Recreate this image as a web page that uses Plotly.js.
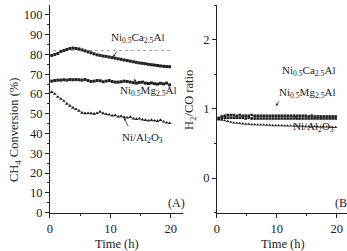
<!DOCTYPE html>
<html><head><meta charset="utf-8">
<script src="https://cdn.plot.ly/plotly-3.0.1.min.js"></script>
<style>html,body{margin:0;padding:0;background:#fff}#c{width:347px;height:251px}</style>
</head><body><div id="c"></div>
<script>
const time = [0.3,0.8,1.3,1.8,2.3,2.8,3.3,3.8,4.3,4.8,5.3,5.8,6.3,6.8,7.3,7.8,8.3,8.8,9.3,9.8,10.3,10.8,11.3,11.8,12.3,12.8,13.3,13.8,14.3,14.8,15.3,15.8,16.3,16.8,17.3,17.8,18.3,18.8,19.3,19.8];
const convCa = [79.5,80,80.5,81.5,82,82.5,83,83.2,83,82.8,82.3,81.8,81.3,80.8,80.3,79.8,79.5,79.2,79,78.7,78.4,78.1,77.8,77.5,77.2,76.9,76.6,76.3,76,75.7,75.5,75.3,75,74.8,74.6,74.4,74.2,74,73.9,73.8];
const convMg = [66.5,66.8,67,67,67.2,67,67.3,67.2,67.3,67.2,67,67.3,66.8,66.3,66.5,66.8,66.7,66.2,66.5,66.8,66.3,66,66,66.2,66.5,66.3,66,65.7,65.5,65.8,66,65.5,65.3,65.6,65.2,65,65.4,65.1,65.5,64.6];
const convAl = [61,60,58.5,57.5,56.5,55,54,53,52.3,51.5,50.5,50.2,50.3,50.2,50,50.3,51,50.2,49.8,49.5,49,49.2,48.5,48.7,48.2,48,48.3,47.5,47.3,47.5,47,46.8,46.5,46.8,46.5,46.3,46.8,46,45.5,45.2];
const ratioCa = [0.87,0.89,0.9,0.91,0.91,0.91,0.9,0.91,0.9,0.9,0.9,0.91,0.9,0.9,0.9,0.9,0.9,0.9,0.9,0.9,0.9,0.9,0.9,0.9,0.9,0.9,0.9,0.9,0.9,0.9,0.89,0.9,0.89,0.89,0.89,0.89,0.89,0.89,0.89,0.89];
const ratioMg = [0.85,0.86,0.87,0.87,0.87,0.87,0.87,0.87,0.87,0.86,0.87,0.86,0.86,0.86,0.86,0.86,0.86,0.86,0.86,0.86,0.86,0.86,0.86,0.86,0.86,0.86,0.86,0.86,0.86,0.86,0.86,0.86,0.86,0.86,0.86,0.86,0.86,0.86,0.86,0.86];
const ratioAl = [0.85,0.84,0.83,0.82,0.81,0.8,0.795,0.79,0.785,0.78,0.78,0.775,0.775,0.77,0.77,0.77,0.765,0.765,0.76,0.76,0.76,0.76,0.755,0.755,0.755,0.75,0.75,0.75,0.75,0.745,0.745,0.745,0.745,0.74,0.74,0.74,0.74,0.735,0.735,0.735];
const refX = [0.5, 20];
const refY = [82, 82];

const serif = "'Liberation Serif', 'Times New Roman', Times, serif";
const ink = "#222";
function mk(x, y, xa, ya, sym, sz){
  return {x:x, y:y, xaxis:xa, yaxis:ya, type:'scatter', mode:'markers',
    marker:{symbol:sym, size:sz, color:ink, line:{width:0}}, showlegend:false, hoverinfo:'skip', cliponaxis:false};
}
const data = [
  {x:refX, y:refY, xaxis:'x', yaxis:'y', mode:'lines', line:{color:'#888', width:0.8, dash:'dot'}, showlegend:false},
  mk(time, convCa, 'x','y','square',3),
  mk(time, convMg, 'x','y','square',3),
  mk(time, convAl, 'x','y','triangle-up',3.5),
  mk(time, ratioCa, 'x2','y2','square',2.6),
  mk(time, ratioMg, 'x2','y2','square',2.6),
  mk(time, ratioAl, 'x2','y2','triangle-up',3)
];
const axBase = {showline:true, linecolor:ink, linewidth:1, ticks:'outside', ticklen:4, tickcolor:ink,
  showgrid:false, zeroline:false, tickfont:{family:serif, size:12.5, color:ink}, mirror:false};
const xa = Object.assign({}, axBase, {tickvals:[0,10,20], ticktext:['0','10','20'],
  minor:{tickvals:[5,15], ticklen:2.5, tickcolor:ink, ticks:'outside'}});
function ann(x,y,t,size){return {x:x,y:y,xref:'paper',yref:'paper',xanchor:'center',yanchor:'middle',text:t,showarrow:false,
  font:{family:serif,size:size||11,color:ink}};}
function px(x){return x/347;}
function py(y){return 1-y/251;}
function arrow(x0,y0,x1,y1){return {x:px(x1),y:py(y1),ax:px(x0),ay:py(y0),xref:'paper',yref:'paper',axref:'paper',ayref:'paper',
  showarrow:true,arrowhead:2,arrowsize:0.6,arrowwidth:0.8,arrowcolor:ink,text:''};}
const layout = {
  width:347, height:251, margin:{l:0,r:0,t:0,b:0}, paper_bgcolor:'#fff', plot_bgcolor:'rgba(0,0,0,0)',
  font:{family:serif, color:ink},
  xaxis: Object.assign({}, xa, {range:[0,22], domain:[0.144,0.527], anchor:'y'}),
  yaxis: Object.assign({}, axBase, {domain:[0.153,0.980], range:[0,105], tickvals:[0,10,20,30,40,50,60,70,80,90,100], anchor:'x',
    minor:{tickvals:[5,15,25,35,45,55,65,75,85,95], ticklen:2, tickcolor:ink, ticks:'outside'}}),
  xaxis2: Object.assign({}, xa, {range:[0,21.7], domain:[0.625,1.0], anchor:'y2'}),
  yaxis2: Object.assign({}, axBase, {domain:[0.153,0.980], range:[-0.5,2.5], tickvals:[0,1,2], anchor:'x2',
    minor:{tickvals:[-0.5,0.5,1.5,2.5], ticklen:2, tickcolor:ink, ticks:'outside'}}),
  annotations:[
    ann(px(117),py(244),'Time (h)',12.5),
    ann(px(283),py(244),'Time (h)',12.5),
    Object.assign(ann(px(15),py(130),'CH<sub>4</sub> Conversion (%)',12.5),{textangle:-90}),
    Object.assign(ann(px(190),py(100),'H<sub>2</sub>/CO ratio',12.5),{textangle:-90}),
    ann(px(176),py(203),'(A)',12),
    ann(px(341),py(203),'(B',12),
    ann(px(137),py(38),'Ni<sub>0.5</sub>Ca<sub>2.5</sub>Al'),
    ann(px(148),py(91),'Ni<sub>0.5</sub>Mg<sub>2.5</sub>Al'),
    ann(px(142),py(138),'Ni/Al<sub>2</sub>O<sub>3</sub>'),
    ann(px(308),py(71),'Ni<sub>0.5</sub>Ca<sub>2.5</sub>Al'),
    ann(px(307),py(93),'Ni<sub>0.5</sub>Mg<sub>2.5</sub>Al'),
    ann(px(313),py(127),'Ni/Al<sub>2</sub>O<sub>3</sub>'),
    arrow(118,50,113,57),
    arrow(139,86,134,79),
    arrow(129,128,124,118),
    arrow(280,100,276,106),
    arrow(301,121,294,116)
  ]
};
Plotly.newPlot('c', data, layout, {staticPlot:true, displayModeBar:false});
</script></body></html>
